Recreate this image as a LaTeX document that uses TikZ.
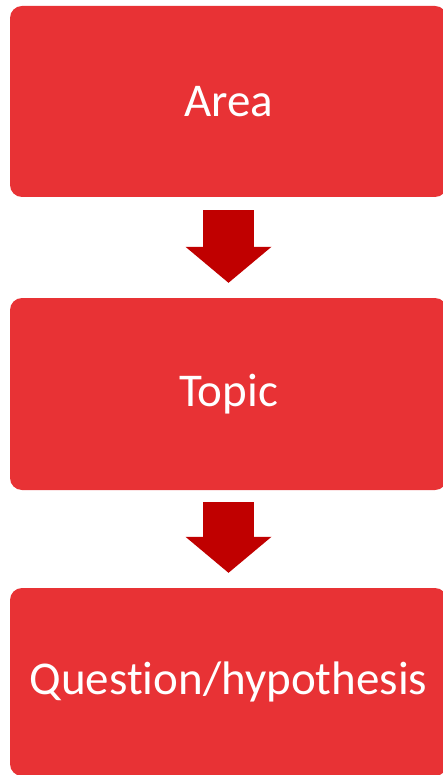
\documentclass[tikz,border=0pt]{standalone}
\usepackage{fontspec}
\setmainfont[Ligatures=NoCommon]{Carlito}
\usetikzlibrary{arrows.meta}
\definecolor{boxred}{HTML}{E83235}
\definecolor{arrowred}{HTML}{C00000}

\begin{document}
\begin{tikzpicture}[x=1pt, y=-1pt,
        stagebox/.style={fill=boxred, rounded corners=12pt, minimum width=437pt,
            text=white, font=\fontsize{47}{56}\selectfont, inner sep=0pt},
        blockarrow/.style={arrowred, line width=51pt,
            -{Triangle[width=86pt, length=36pt, line width=0pt]}}]
        \useasboundingbox (0,0) rectangle (443,775);

        \node[stagebox, minimum height=191pt] (area) at (228.5, 101.5) {Area};
        \node[stagebox, minimum height=192pt] (topic) at (228.5, 394) {Topic};
        \node[stagebox, minimum height=188pt] (question) at (228.5, 682) {Question/hypothesis};

        % arrows between the stages
        \draw[blockarrow, shorten <=13pt, shorten >=15pt] (area.south) -- (topic.north);
        \draw[blockarrow, shorten <=12pt, shorten >=15pt] (topic.south) -- (question.north);
    \end{tikzpicture}
\end{document}
